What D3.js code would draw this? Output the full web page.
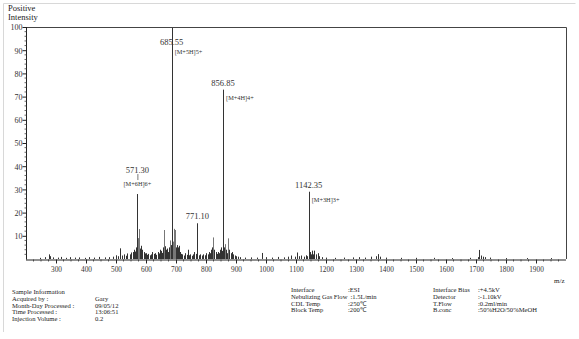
<!DOCTYPE html>
<html><head><meta charset="utf-8">
<script src="https://cdn.jsdelivr.net/npm/d3@7"></script>
<style>
html,body{margin:0;padding:0;background:#fff;}
svg{display:block;font-family:"Liberation Serif","Times New Roman",serif;}
</style></head>
<body><svg id="c" width="579" height="339"></svg>
<script>
// ---- data ----
const mzDomain = [200, 2000];
const xTickValues = [300,400,500,600,700,800,900,1000,1100,1200,1300,1400,1500,1600,1700,1800,1900];
const yTickValues = [10,20,30,40,50,60,70,80,90,100];
// labelled peaks
const peakMz = [571.30, 685.55, 771.10, 856.85, 1142.35];
const peakIntensity = [28, 100, 15.4, 73, 29];
const peakLabel = ["571.30", "685.55", "771.10", "856.85", "1142.35"];
const peakIon = ["[M+6H]6+", "[M+5H]5+", "", "[M+4H]4+", "[M+3H]3+"];
const peakIonStyle = ["stack", "side", "none", "side", "side"];
// minor peaks
const minorMz = [248,262,275,281,290,305,318,333,347,362,378,395,410,428,445,462,478,490,500,507,513,520,526,532,538,545,550,555,560,564,566,569,573,575,577,580,583,586,588,592,596,600,604,608,612,616,620,625,630,634,639,643,645,648,650,653,655,658,661,664,667,670,673,675,678,680,683,688,690,692,695,698,700,702,704,706,709,712,715,718,720,725,730,735,739,743,747,752,756,760,765,768,775,780,785,790,795,800,805,810,813,816,820,824.5,828,832,836,840,843,846,850,853,860,862,864,866,868,870,873,876,878,882,885,890,895,900,905,915,930,950,970,985,1000,1020,1040,1060,1075,1085,1095,1102,1110,1118,1125,1132,1138,1146,1150,1153,1157,1161,1166,1172,1178,1185,1200,1230,1260,1290,1310,1330,1350,1365,1372,1380,1400,1450,1500,1560,1620,1680,1705,1711,1716,1722,1730,1745,1800,1870,1950];
const minorInt = [0.5,0.8,2.0,1.2,0.7,0.6,0.9,0.5,0.8,0.6,0.7,0.5,0.8,0.6,0.9,0.7,0.8,1.0,1.6,1.2,4.6,1.5,2.0,1.4,2.4,2.0,2.8,3.0,4.0,3.2,5.0,6.0,9.0,7.0,12.9,4.5,5.7,3.5,4.0,3.0,2.4,2.5,1.8,2.2,1.6,2.0,3.0,2.2,2.5,1.8,3.0,2.4,4.0,2.8,3.5,2.6,5.0,3.0,12.5,5.5,4.0,4.5,3.0,5.0,3.5,8.0,6.0,10.0,7.5,13.0,7.0,12.5,5.0,6.0,4.0,5.0,5.7,3.0,3.0,2.2,2.0,1.5,2.5,1.8,4.0,1.6,2.0,1.4,2.0,3.0,1.8,2.2,1.6,2.0,1.5,2.0,1.6,2.5,2.0,3.0,2.5,4.0,5.0,9.3,4.0,3.0,2.2,3.0,2.5,4.0,5.0,3.5,5.0,3.5,6.4,3.0,4.0,2.5,8.9,3.5,4.0,2.5,3.0,2.0,1.5,1.2,1.0,0.8,0.6,0.7,0.6,2.6,0.8,0.6,0.9,0.7,1.0,1.5,1.0,2.8,1.2,1.5,1.0,1.6,1.2,3.0,2.0,3.6,2.0,3.6,2.0,2.5,1.2,0.8,0.6,0.5,0.6,0.7,0.8,0.6,1.0,1.2,2.1,1.0,0.6,0.5,0.5,0.5,0.4,0.5,0.8,3.9,1.5,1.0,0.8,0.6,0.4,0.4,0.4];
// acquisition info
const infoLeftKeys = ["Acquired by :", "Month-Day Processed :", "Time Processed :", "Injection Volume :"];
const infoLeftVals = ["Gary", "09/05/12", "13:06:51", " 0.2"];
const infoMidKeys = ["Interface", "Nebulizing Gas Flow", "CDL Temp", "Block Temp"];
const infoMidVals = [":ESI", ":1.5L/min", ":250\u2103", ":200\u2103"];
const infoRightKeys = ["Interface Bias", "Detector", "T.Flow", "B.conc"];
const infoRightVals = [":+4.5kV", ":-1.10kV", ":0.2ml/min", ":50%H2O/50%MeOH"];

// ---- drawing ----
const svg = d3.select("#c");
const L = 26, R = 566, T = 27, B = 259;
const x = d3.scaleLinear().domain(mzDomain).range([L, R]);
const y = d3.scaleLinear().domain([0, 100]).range([B, T]);

// outer page frame (light)
svg.append("path").attr("d", `M3.5,332 V3.5 H575.5`).attr("fill","none").attr("stroke","#d8d8d8").attr("stroke-width",1);

// header
svg.append("text").attr("x",8).attr("y",11).attr("font-size",8.5).attr("fill","#222").text("Positive");
svg.append("text").attr("x",8).attr("y",20).attr("font-size",8.5).attr("fill","#222").text("Intensity");

// minor peaks
svg.append("g").selectAll("line").data(minorMz).join("line")
  .attr("x1", d => Math.round(x(d)) + 0.5).attr("x2", d => Math.round(x(d)) + 0.5)
  .attr("y1", y(0)).attr("y2", (d,i) => y(minorInt[i]))
  .attr("stroke", (d,i) => minorInt[i] > 6 ? "#777" : "#333").attr("stroke-width", 1);

// major peaks
svg.append("g").selectAll("line").data(peakMz).join("line")
  .attr("x1", d => Math.round(x(d)) + 0.5).attr("x2", d => Math.round(x(d)) + 0.5)
  .attr("y1", y(0)).attr("y2", (d,i) => y(peakIntensity[i]))
  .attr("stroke", "#333").attr("stroke-width", 1);

// frame: top and right
svg.append("path").attr("d", `M${L},${T+0.5} H${R+0.5} V${B}`).attr("fill","none").attr("stroke","#444").attr("stroke-width",1);

// axes
const xAxis = d3.axisBottom(x).tickValues(xTickValues).tickSize(4).tickFormat(d3.format("d"));
const gx = svg.append("g").attr("transform", `translate(0,${B + 0.5})`).call(xAxis);
gx.select(".domain").attr("d", `M${L},0.5H${R}`).attr("stroke","#222");
gx.selectAll(".tick line").attr("stroke","#222");
gx.selectAll(".tick text").attr("font-family","Liberation Serif").attr("font-size",7.3).attr("fill","#333").attr("dy","0.7em");
const xMinor = d3.range(200, 2000, 25).filter(v => v % 100 !== 0);
svg.append("g").selectAll("line").data(xMinor).join("line")
  .attr("x1", d => x(d)).attr("x2", d => x(d)).attr("y1", B + 0.5).attr("y2", B + 2.5)
  .attr("stroke","#333").attr("stroke-width", 0.8);

const yAxis = d3.axisLeft(y).tickValues(yTickValues).tickSize(4);
const gy = svg.append("g").attr("transform", `translate(${L + 0.5},0)`).call(yAxis);
gy.select(".domain").attr("d", `M0,${T}V${B + 0.5}`).attr("stroke","#222");
gy.selectAll(".tick line").attr("stroke","#222");
gy.selectAll(".tick text").attr("font-family","Liberation Serif").attr("font-size",8).attr("fill","#333").attr("x",-4).attr("dy","0.35em");
const yMinor = d3.range(0, 100, 2).filter(v => v % 10 !== 0);
svg.append("g").selectAll("line").data(yMinor).join("line")
  .attr("x1", L + 0.5).attr("x2", L - 1.5).attr("y1", d => y(d)).attr("y2", d => y(d))
  .attr("stroke","#444").attr("stroke-width", 0.8);

// m/z
svg.append("text").attr("x", 554).attr("y", 282.5).attr("font-size", 7).attr("fill","#222").text("m/z");

// peak labels
peakMz.forEach((m, i) => {
  const px = x(m), top = y(peakIntensity[i]);
  const g = svg.append("g").attr("font-size", 8.5).attr("fill","#333");
  if (peakIonStyle[i] === "stack") {
    g.append("text").attr("x", px).attr("y", top - 24).attr("dy","0.35em").attr("text-anchor","middle").text(peakLabel[i]);
    svg.append("line").attr("x1", px + 0.5).attr("x2", px + 0.5).attr("y1", top - 20).attr("y2", top - 14).attr("stroke","#555").attr("stroke-width",0.8);
    svg.append("text").attr("x", px).attr("y", top - 10).attr("dy","0.35em").attr("text-anchor","middle").attr("font-size",6.3).attr("fill","#333").text(peakIon[i]);
  } else {
    let ly = top - 7, ay = top + 8;
    if (ly < T + 15) { ly = T + 15; ay = ly + 10; }
    g.append("text").attr("x", px).attr("y", ly).attr("dy","0.35em").attr("text-anchor","middle").text(peakLabel[i]);
    if (peakIonStyle[i] === "side") {
      svg.append("text").attr("x", px + 3).attr("y", ay).attr("dy","0.35em").attr("font-size",6.3).attr("fill","#333").text(peakIon[i]);
    }
  }
});

// info block
const info = svg.append("g").attr("font-size", 6.6).attr("fill", "#222");
function block(xk, xv, y0, keys, vals, header) {
  const g = info.append("g").attr("transform", `translate(0,${y0})`);
  const off = header ? 1 : 0;
  if (header) g.append("text").attr("x", xk).attr("y", 0).text(header);
  keys.forEach((k, i) => {
    const t = g.append("text").attr("x", xk).attr("y", (i + off) * 6.8).text(k);
    const w = t.node().getComputedTextLength();
    g.append("text").attr("x", Math.max(xv, xk + w + 3)).attr("y", (i + off) * 6.8).text(vals[i]);
  });
}
block(12, 95, 294, infoLeftKeys, infoLeftVals, "Sample Information");
block(291, 348, 292, infoMidKeys, infoMidVals, null);
block(433, 478, 292, infoRightKeys, infoRightVals, null);
</script></body></html>
